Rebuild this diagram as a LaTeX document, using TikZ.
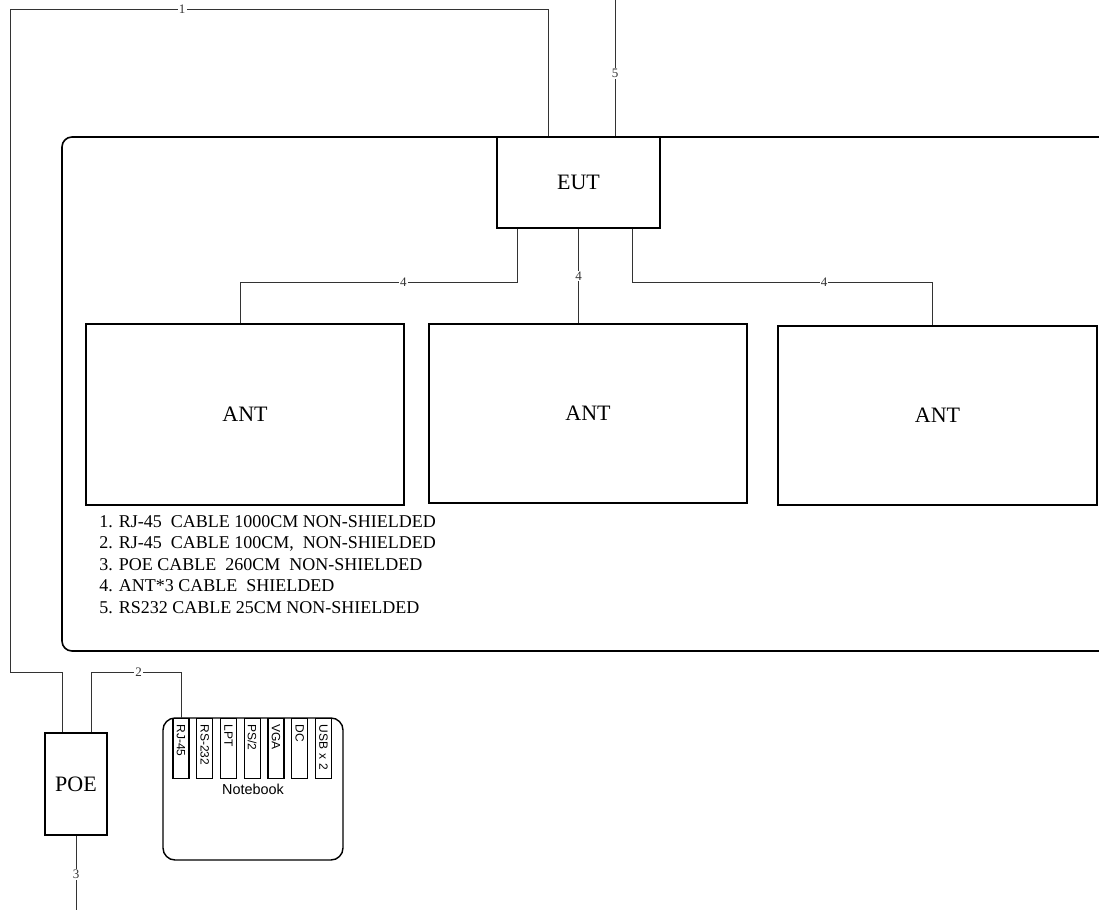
\documentclass[tikz,border=0pt]{standalone}
\usepackage{fontspec}
\setmainfont{Liberation Serif}
\setsansfont{Liberation Sans}
\usetikzlibrary{positioning,calc}

\begin{document}
\begin{tikzpicture}[x=0.5pt,y=-0.5pt,
box/.style={draw,line width=0.7pt,fill=white,font=\fontsize{11}{13}\selectfont},
cable/.style={draw,line width=0.5pt,black!80},
num/.style={fill=white,inner sep=0.6pt,font=\fontsize{6.5}{7}\selectfont},
frame/.style={draw,line width=0.8pt,rounded corners=5pt},
port/.style={draw,line width=0.6pt,rotate=-90,anchor=west,minimum width=30pt,minimum height=8pt,
  inner xsep=3pt,inner ysep=0pt,text width=24pt,align=left,font=\sffamily\fontsize{6}{6.5}\selectfont}]
\useasboundingbox (0,0) rectangle (1099,910);
% test room
\draw[frame] (1105,137) -- (62,137) -- (62,651) -- (1105,651);
\node[box,minimum width=81.5pt,minimum height=45.5pt] (eut) at (578.5,182.5) {EUT};
\node[box,minimum width=159pt,minimum height=90.5pt] (ant1) at (245,414.5) {ANT};
\node[box,minimum width=159pt,minimum height=89.5pt] (ant2) at (588,413.5) {ANT};
\node[box,minimum width=159.5pt,minimum height=89.5pt] (ant3) at (937.5,415.5) {ANT};
\node[anchor=north west,align=left,inner sep=0pt,font=\fontsize{9}{10.75}\selectfont] (legend) at (99,515)
 {1. RJ-45\ \ CABLE 1000CM NON-SHIELDED\\
  2. RJ-45\ \ CABLE 100CM,\ \ NON-SHIELDED\\
  3. POE CABLE\ \ 260CM\ \ NON-SHIELDED\\
  4. ANT*3 CABLE\ \ SHIELDED\\
  5. RS232 CABLE 25CM NON-SHIELDED};
% support units
\node[box,minimum width=31pt,minimum height=51pt] (poe) at (76,784) {POE};
\node[draw,line width=0.7pt,rounded corners=6pt,minimum width=90pt,minimum height=71pt,
  font=\sffamily\fontsize{7.2}{8}\selectfont] (nb) at (253,789) {Notebook};
\foreach \t [count=\i] in {RJ-45,RS-232,LPT,PS/2,VGA,DC,USB x 2}
  \node[port] (p\i) at ({181+23.75*(\i-1)},718) {\t};
% cables
\coordinate (c1a) at (548,9);
\coordinate (c1b) at (10,9);
\coordinate (c1c) at (10,672);
\coordinate (c1d) at (62,672);
\draw[cable] (eut.north -| c1a) -- (c1a) -- node[num,pos=.68]{1} (c1b) -- (c1c) -- (c1d) -- (poe.north -| c1d);
\coordinate (c5) at (615,0);
\draw[cable] (c5) -- node[num,pos=.54]{5} (eut.north -| c5);
\coordinate (c4l) at (517,282);
\coordinate (c4la) at (240,282);
\coordinate (c4r) at (632,282);
\coordinate (c4ra) at (932,282);
\draw[cable] (eut.south -| c4l) -- (c4l) -- node[num,pos=.41]{4} (c4la) -- (ant1.north -| c4la);
\draw[cable] (eut.south) -- node[num]{4} (eut.south |- ant2.north);
\draw[cable] (eut.south -| c4r) -- (c4r) -- node[num,pos=.64]{4} (c4ra) -- (ant3.north -| c4ra);
\coordinate (c2a) at (91,672);
\coordinate (c2b) at (181,672);
\draw[cable] (poe.north -| c2a) -- (c2a) -- node[num,pos=.53]{2} (c2b) -- (p1.west);
\coordinate (c3) at (76,910);
\draw[cable] (poe.south) -- node[num,pos=.52]{3} (c3);
\end{tikzpicture}
\end{document}
